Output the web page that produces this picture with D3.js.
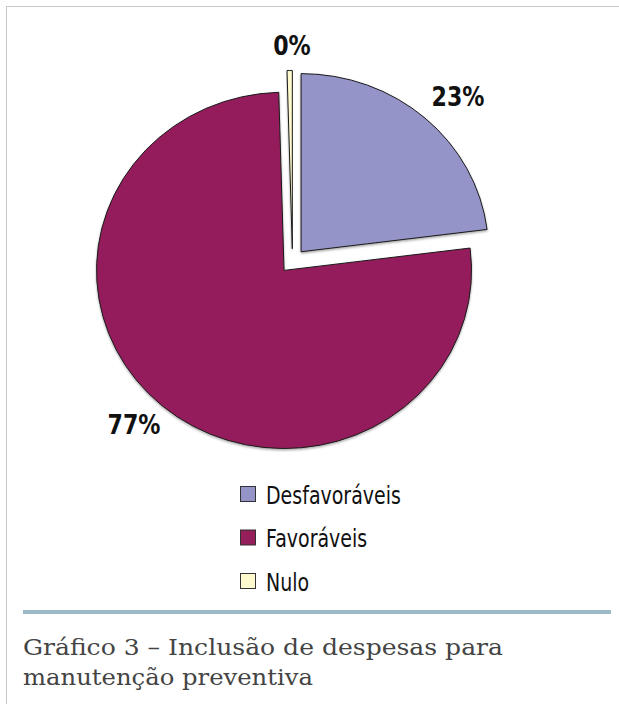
<!DOCTYPE html>
<html>
<head>
<meta charset="utf-8">
<script src="https://cdn.jsdelivr.net/npm/d3@7"></script>
<style>
  html, body { margin: 0; padding: 0; background: #fff; }
  svg { display: block; }
</style>
</head>
<body>
<svg id="chart" width="619" height="704"></svg>
<script>
// Opinion shares (percent) on including preventive-maintenance expenses
const categories = ["Desfavoráveis", "Favoráveis", "Nulo"];
const values = [23.0, 76.55, 0.45];
const colors = ["#9494c8", "#951f5b", "#fffacd"];
const caption = ["Gráfico 3 – Inclusão de despesas para", "manutenção preventiva"];

const svg = d3.select("#chart");
const W = 619, H = 704;

// page frame
svg.append("line").attr("x1", 6).attr("x2", 619).attr("y1", 6.5).attr("y2", 6.5)
  .attr("stroke", "#c8c8c8").attr("stroke-width", 1);
svg.append("line").attr("x1", 6.5).attr("x2", 6.5).attr("y1", 6).attr("y2", H)
  .attr("stroke", "#c8c8c8").attr("stroke-width", 1);

// pie geometry
const cx = 292.5, cy = 261, r = 187.5, ky = 0.95, explode = 13;
const total = d3.sum(values);
const pie = d3.pie().sort(null).value(d => d.value);
const arcs = pie(categories.map((c, i) => ({ name: c, value: values[i], color: colors[i] })));
const arc = d3.arc().innerRadius(0).outerRadius(r);

const defs = svg.append("defs");
const f = defs.append("filter").attr("id", "shadow").attr("x", "-10%").attr("y", "-10%")
  .attr("width", "120%").attr("height", "120%");
f.append("feDropShadow").attr("dx", 0).attr("dy", 1.5).attr("stdDeviation", 1.2)
  .attr("flood-color", "#000").attr("flood-opacity", 0.35);

const g = svg.append("g").attr("transform", `translate(${cx},${cy}) scale(1,${ky})`);
g.selectAll("path.slice").data(arcs).join("path")
  .attr("class", "slice")
  .attr("d", arc)
  .attr("transform", d => {
    const a = (d.startAngle + d.endAngle) / 2;
    return `translate(${explode * Math.sin(a)},${-explode * Math.cos(a)})`;
  })
  .attr("fill", d => d.data.color)
  .attr("stroke", "#1a1a1a")
  .attr("stroke-width", 1)
  .attr("vector-effect", "non-scaling-stroke")
  .attr("stroke-linejoin", "miter")
  .attr("filter", "url(#shadow)");

// percentage labels (condensed by a horizontal squeeze)
const labelPos = [[458, 106], [134, 434], [292, 55]];
const squeeze = 0.82;
svg.selectAll("g.pct").data(arcs).join("g")
  .attr("class", "pct")
  .attr("transform", (d, i) => `translate(${labelPos[i][0]},${labelPos[i][1]}) scale(${squeeze},1)`)
  .append("text")
  .attr("text-anchor", "middle")
  .attr("font-family", "'DejaVu Sans', sans-serif")
  .attr("font-weight", "bold")
  .attr("font-size", 27)
  .attr("fill", "#111")
  .text(d => Math.round(d.data.value / total * 100) + "%");

// legend
const legend = svg.append("g").attr("transform", "translate(240,494)");
const rowY = d3.scalePoint().domain(categories).range([0, 87]);
const item = legend.selectAll("g").data(categories).join("g")
  .attr("transform", d => `translate(0,${rowY(d)})`);
item.append("rect").attr("x", 0.5).attr("y", -7.5).attr("width", 15).attr("height", 15)
  .attr("fill", (d, i) => colors[i]).attr("stroke", "#333").attr("stroke-width", 1);
item.append("g").attr("transform", "translate(26,9.5) scale(0.76,1)")
  .append("text")
  .attr("font-family", "'DejaVu Sans', sans-serif")
  .attr("font-size", 25).attr("fill", "#111")
  .text(d => d);

// divider rule
svg.append("rect").attr("x", 23).attr("y", 610).attr("width", 588).attr("height", 4)
  .attr("fill", "#9db8c6");

// caption
const capWidths = [480, 290];
const cap = svg.append("g").attr("font-family", "'DejaVu Serif', 'Liberation Serif', serif")
  .attr("font-size", 22).attr("fill", "#444");
cap.selectAll("text").data(caption).join("text")
  .attr("x", 23).attr("y", (d, i) => 655 + i * 30)
  .attr("textLength", (d, i) => capWidths[i])
  .attr("lengthAdjust", "spacingAndGlyphs")
  .text(d => d);
</script>
</body>
</html>
